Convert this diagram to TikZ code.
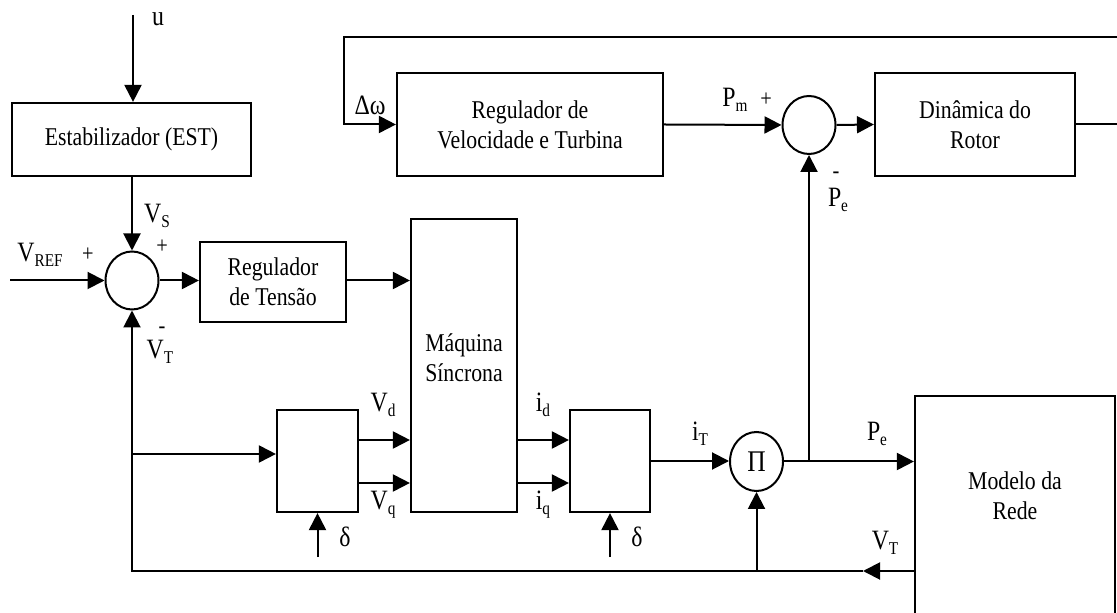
\documentclass[tikz,border=0pt]{standalone}
\usepackage{fontspec}
\setmainfont{Liberation Serif}[FakeStretch=0.85]
\usetikzlibrary{positioning,arrows.meta,shapes.geometric}
\tikzset{
  flowarrow/.style={-{Triangle[length=8.5pt,width=8.5pt]}, line width=1pt},
  block/.style={draw, line width=1.1pt, inner sep=2pt, align=center, font=\fontsize{12.8}{15}\selectfont},
  sumnode/.style={draw, ellipse, line width=1pt, inner sep=0, minimum width=26.5pt, minimum height=29pt},
  siglabel/.style={inner sep=0, font=\fontsize{14}{16}\selectfont},
  signlabel/.style={inner sep=0, font=\fontsize{12}{14}\selectfont}
}
\newcommand{\sig}[2]{#1\raisebox{-2.5pt}{\fontsize{9}{9}\selectfont #2}}

\begin{document}
\begin{tikzpicture}[x=0.5pt, y=-0.5pt]
  \useasboundingbox (0,0) rectangle (1117,613);
  \clip (0,0) rectangle (1117,613);
  % blocks
  \node[block, minimum width=119.5pt, minimum height=36.5pt] (estab) at (131.5,139.5) {Estabilizador (EST)};
  \node[sumnode] (somaV) at (132,280.5) {};
  \node[block, minimum width=73pt, minimum height=40pt] (regten) at (273,282) {Regulador\\de Tensão};
  \node[block, minimum width=53pt, minimum height=146.5pt, text depth=7.5pt] (maquina) at (464,365.5) {Máquina\\Síncrona};
  \node[block, minimum width=40.5pt, minimum height=51pt] (park) at (317.5,461) {};
  \node[block, minimum width=40pt, minimum height=51pt] (invpark) at (610,461) {};
  \node[sumnode, minimum height=29.5pt, font=\fontsize{15}{15}\selectfont] (prod) at (756.5,461.5) {Π};
  \node[block, minimum width=100pt, minimum height=115.5pt, text depth=15.5pt] (rede) at (1015,511.5) {Modelo da\\Rede};
  \node[block, minimum width=133pt, minimum height=51.5pt] (regvel) at (530,124.5) {Regulador de\\Velocidade e Turbina};
  \node[sumnode] (somaP) at (809,125) {};
  \node[block, minimum width=100pt, minimum height=51.5pt] (rotor) at (975,124.5) {Dinâmica do\\Rotor};
  % free ends
  \coordinate (uin) at (133,15);
  \coordinate (vref) at (10,280.5);
  \coordinate (vtline) at (0,571);
  \coordinate (vtmid) at (863,571);
  \coordinate (vtbranch) at (132,454);
  \coordinate (delta1) at (318,557);
  \coordinate (delta2) at (610,557);
  \coordinate (loopR) at (1125,37);
  \coordinate (loopL) at (344,37);
  % connectors
  \draw[flowarrow] (uin) -- (uin |- estab.north);
  \draw[flowarrow] (estab.south -| somaV.north) -- (somaV.north);
  \draw[flowarrow] (vref) -- (somaV.west);
  \draw[flowarrow] (somaV.east) -- (somaV.east -| regten.west);
  \draw[flowarrow] (regten.east |- somaV.east) -- (somaV.east -| maquina.west);
  \draw[flowarrow] ([yshift=10.5pt]park.east) -- ([yshift=10.5pt]park.east -| maquina.west);
  \draw[flowarrow] ([yshift=-11pt]park.east) -- ([yshift=-11pt]park.east -| maquina.west);
  \draw[flowarrow] ([yshift=10.5pt]invpark.west -| maquina.east) -- ([yshift=10.5pt]invpark.west);
  \draw[flowarrow] ([yshift=-11pt]invpark.west -| maquina.east) -- ([yshift=-11pt]invpark.west);
  \draw[flowarrow] (park.south |- delta1) -- (park.south);
  \draw[flowarrow] (invpark.south |- delta2) -- (invpark.south);
  \draw[flowarrow] (invpark.east) -- (invpark.east -| prod.west);
  \draw[flowarrow] (prod.east) -- (prod.east -| rede.west);
  \draw[flowarrow] (prod.east -| somaP.south) -- (somaP.south);
  \draw[flowarrow] (vtline -| rede.west) -- (vtmid);
  \draw[flowarrow] (vtmid) -| (somaV.south);
  \draw[flowarrow] (vtbranch) -- (vtbranch -| park.west);
  \draw[flowarrow] (prod.south |- vtmid) -- (prod.south);
  \draw[flowarrow] (rotor.east) -| (loopR) -- (loopL) |- (regvel.west);
  \draw[flowarrow] (regvel.east) -- (somaP.west);
  \draw[flowarrow] (somaP.east) -- (rotor.west);
  % labels
  \node[siglabel] (lblU) at (158,19) {u};
  \node[siglabel] (lblVs) at (157,216) {\sig{V}{S}};
  \node[signlabel] (sgnVs) at (162,247) {+};
  \node[siglabel] (lblVref) at (40,255) {\sig{V}{REF}};
  \node[signlabel] (sgnVref) at (88,255) {+};
  \node[signlabel] (sgnVt) at (162,330) {-};
  \node[siglabel] (lblVt) at (160,352) {\sig{V}{T}};
  \node[siglabel] (lblVd) at (383,405) {\sig{V}{d}};
  \node[siglabel] (lblVq) at (383,505) {\sig{V}{q}};
  \node[siglabel] (lblDelta1) at (345,537) {δ};
  \node[siglabel] (lblId) at (543,405) {\sig{i}{d}};
  \node[siglabel] (lblIq) at (543,505) {\sig{i}{q}};
  \node[siglabel] (lblIt) at (700,434) {\sig{i}{T}};
  \node[siglabel] (lblDelta2) at (637,537) {δ};
  \node[siglabel] (lblPe) at (877,434) {\sig{P}{e}};
  \node[siglabel] (lblVtRede) at (885,543) {\sig{V}{T}};
  \node[siglabel] (lblDw) at (370,105) {Δω};
  \node[siglabel] (lblPm) at (735,100) {\sig{P}{m}};
  \node[signlabel] (sgnPm) at (766,100) {+};
  \node[signlabel] (sgnPe) at (836,175) {-};
  \node[siglabel] (lblPeTop) at (838,200) {\sig{P}{e}};
\end{tikzpicture}
\end{document}
